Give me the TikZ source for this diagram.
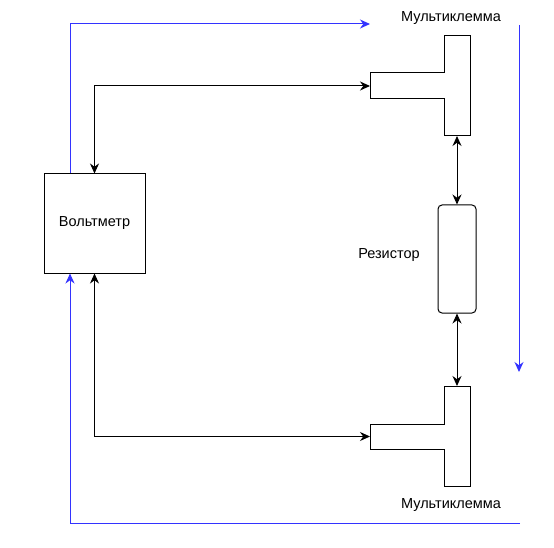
\documentclass[tikz,border=0pt]{standalone}
\usepackage{fontspec}
\setmainfont{Liberation Sans}
\usetikzlibrary{arrows.meta}
\definecolor{wireblue}{RGB}{51,51,255}

\begin{document}
\begin{tikzpicture}[x=1pt,y=-1pt,line width=1pt,font=\fontsize{14.5}{17}\selectfont]
  \tikzset{box/.style = {shape=rectangle,draw,minimum width=101pt,minimum height=99pt,inner sep=0pt}}
  \tikzset{res/.style = {shape=rectangle,draw,rounded corners=4pt,minimum width=38pt,minimum height=108pt,inner sep=0pt}}
  \tikzset{wire/.style = {{Stealth[length=10pt,width=9pt]}-{Stealth[length=10pt,width=9pt]}}}
  \tikzset{flow/.style = {-{Stealth[length=10pt,width=9pt]},draw=wireblue}}
  \useasboundingbox (0,0) rectangle (554,548);

	\node[box] (volt) at (94.5,223.5) {Вольтметр};
	\node[res] (res) at (457,259) {};
	\node (reslab) at (389,255) {Резистор};
	\node (mt1lab) at (451,18) {Мультиклемма};
	\node (mt2lab) at (451,505) {Мультиклемма};

	% multiklemmy
	\draw (370,73) -- (444,73) -- (444,36) -- (470,36) -- (470,136) -- (444,136) -- (444,99) -- (370,99) -- cycle;
	\draw (370,424) -- (444,424) -- (444,386) -- (470,386) -- (470,486) -- (444,486) -- (444,449) -- (370,449) -- cycle;
	\coordinate (mt1w) at (370,86);
	\coordinate (mt1s) at (457,136);
	\coordinate (mt2w) at (370,436.5);
	\coordinate (mt2n) at (457,386);

	\coordinate (fa) at (370,24);
	\coordinate (fb) at (519,25);
	\coordinate (fc) at (519,372);
	\coordinate (fd) at (520,523);

	\draw[wire] (volt.north) |- (mt1w);
	\draw[wire] (volt.south) |- (mt2w);
    \foreach \from/\to in {mt1s/res.north,res.south/mt2n}
    \draw[wire] (\from) -- (\to);

	\draw[flow] ([xshift=-24.5pt]volt.north) |- (fa);
	\draw[flow] (fb) -- (fc);
	\draw[flow] (fd) -| ([xshift=-24.5pt]volt.south);
\end{tikzpicture}
\end{document}
